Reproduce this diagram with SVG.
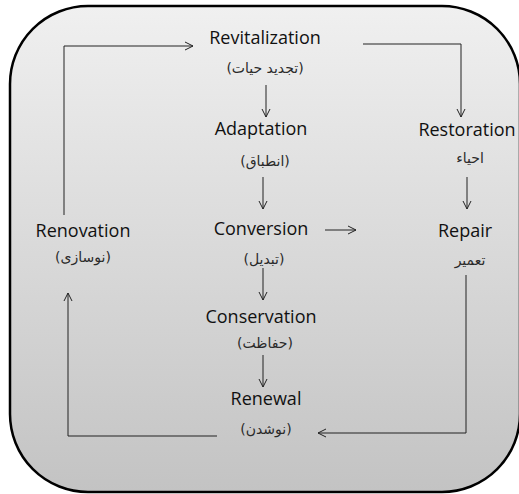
<svg xmlns="http://www.w3.org/2000/svg" width="519" height="494" viewBox="0 0 519 494">
  <defs>
    <linearGradient id="panelFill" x1="0" y1="0" x2="0" y2="1">
      <stop offset="0" stop-color="#f0f0f0"/>
      <stop offset="1" stop-color="#c3c3c3"/>
    </linearGradient>
    <marker id="openArrow" markerUnits="userSpaceOnUse" markerWidth="10" markerHeight="10" refX="8" refY="4" orient="auto" overflow="visible">
      <path d="M0,0 L8,4 L0,8" fill="none" stroke="#222" stroke-width="1"/>
    </marker>
    <style>
      .en { font-family: "Open Sans", "Liberation Sans", sans-serif; font-size: 18px; fill: #111; text-anchor: middle; }
      .fa { font-family: "DejaVu Sans", "Noto Sans", sans-serif; font-size: 14px; fill: #2a2a2a; text-anchor: middle; direction: rtl; unicode-bidi: embed; }
      .link { fill: none; stroke: #222; stroke-width: 1; }
    </style>
  </defs>

  <!-- background panel -->
  <rect x="10" y="6" width="510" height="486" rx="78" ry="78" fill="url(#panelFill)" stroke="#000" stroke-width="2.5"/>

  <!-- connectors -->
  <g id="connectors">
    <polyline class="link" points="64,215 64,46 193,46" marker-end="url(#openArrow)"/>
    <polyline class="link" points="363,44 461,44 461,117" marker-end="url(#openArrow)"/>
    <line class="link" x1="266" y1="85" x2="266" y2="117" marker-end="url(#openArrow)"/>
    <line class="link" x1="263" y1="177" x2="263" y2="209" marker-end="url(#openArrow)"/>
    <line class="link" x1="325" y1="230" x2="356" y2="230" marker-end="url(#openArrow)"/>
    <line class="link" x1="263" y1="268" x2="263" y2="300" marker-end="url(#openArrow)"/>
    <line class="link" x1="263" y1="355" x2="263" y2="387" marker-end="url(#openArrow)"/>
    <line class="link" x1="467" y1="177" x2="467" y2="209" marker-end="url(#openArrow)"/>
    <polyline class="link" points="466,275 466,433 318,433" marker-end="url(#openArrow)"/>
    <polyline class="link" points="217,436 68,436 68,293" marker-end="url(#openArrow)"/>
  </g>

  <!-- nodes -->
  <g id="revitalization">
    <text class="en" x="265" y="44">Revitalization</text>
    <text class="fa" x="265" y="73">(تجدید حیات)</text>
  </g>
  <g id="adaptation">
    <text class="en" x="261" y="135">Adaptation</text>
    <text class="fa" x="265" y="166">(انطباق)</text>
  </g>
  <g id="conversion">
    <text class="en" x="261" y="235">Conversion</text>
    <text class="fa" x="264" y="264">(تبدیل)</text>
  </g>
  <g id="conservation">
    <text class="en" x="261" y="323">Conservation</text>
    <text class="fa" x="265" y="348">(حفاظت)</text>
  </g>
  <g id="renewal">
    <text class="en" x="266" y="405">Renewal</text>
    <text class="fa" x="266" y="434">(نوشدن)</text>
  </g>
  <g id="restoration">
    <text class="en" x="467" y="136">Restoration</text>
    <text class="fa" x="470" y="163">احیاء</text>
  </g>
  <g id="repair">
    <text class="en" x="465" y="237">Repair</text>
    <text class="fa" x="470" y="265">تعمیر</text>
  </g>
  <g id="renovation">
    <text class="en" x="83" y="237">Renovation</text>
    <text class="fa" x="83" y="262">(نوسازی)</text>
  </g>
</svg>
